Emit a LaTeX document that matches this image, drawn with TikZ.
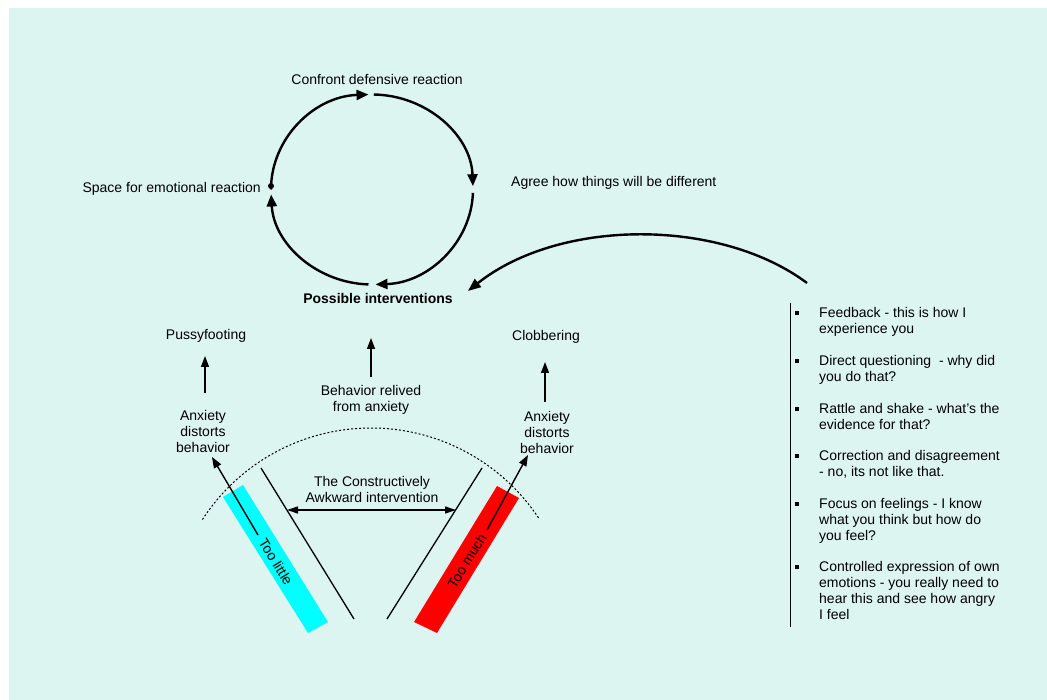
\documentclass[tikz,border=0pt]{standalone}
\usepackage{fontspec}
\setmainfont{Liberation Sans}
\usetikzlibrary{arrows.meta}
\definecolor{bgmint}{RGB}{221,245,241}
\definecolor{barcyan}{RGB}{0,255,255}
\definecolor{barred}{RGB}{255,0,0}
\begin{document}
\begin{tikzpicture}[x=1pt,y=-1pt,
  lbl/.style={font=\fontsize{14}{16}\selectfont, inner sep=0pt, align=center},
  cyc/.style={line width=2.4pt, -{Triangle[length=12pt,width=10pt]}},
  upar/.style={line width=1.4pt, -{Triangle[length=11pt,width=8pt]}},
  thin/.style={line width=1.3pt},
  bullet/.style={fill=black, minimum size=4.5pt, inner sep=0pt},
  item/.style={lbl, align=left, anchor=north west}
]
\useasboundingbox (0,0) rectangle (1047,700);
\fill[bgmint] (9,8) rectangle (1047,700);

% ---- cycle of interventions ----
\node[lbl] (confront) at (377,80) {Confront defensive reaction};
\node[lbl, anchor=west] (agree) at (511,183) {Agree how things will be different};
\node[lbl, anchor=east] (space) at (261,189) {Space for emotional reaction};
\node[lbl, font=\fontsize{14}{16}\selectfont\bfseries] (possible) at (378,298) {Possible interventions};

\coordinate (cc) at (372,189.5);
\draw[cyc] (cc) ++(180:101 and 95) arc[start angle=180, end angle=268, x radius=101, y radius=95];
\draw[cyc] (cc) ++(271:101 and 95) arc[start angle=271, end angle=358, x radius=101, y radius=95];
\draw[cyc] (cc) ++(2:101 and 95) arc[start angle=2, end angle=88, x radius=101, y radius=95];
\draw[cyc] (cc) ++(92:101 and 95) arc[start angle=92, end angle=177, x radius=101, y radius=95];
\fill (271,186) circle[radius=3];

% ---- list of techniques ----
\coordinate (listtop) at (790,303);
\coordinate (listbot) at (790,627);
\draw[line width=1pt] (listtop) -- (listbot);
\coordinate (curvestart) at (807,283);
\coordinate (curveend) at ([shift={(15,-7)}]possible.east);
\draw[line width=2.4pt, -{Triangle[length=13pt,width=10pt]}]
  (curvestart) .. controls (720,218) and (560,218) .. (curveend);

\foreach \y/\txt [count=\i] in {
  307/{Feedback - this is how I\\experience you},
  355/{Direct questioning\ \ - why did\\you do that?},
  403/{Rattle and shake - what’s the\\evidence for that?},
  450/{Correction and disagreement\\- no, its not like that.},
  498/{Focus on feelings - I know\\what you think but how do\\you feel?},
  561/{Controlled expression of own\\emotions - you really need to\\hear this and see how angry\\I feel}} {
  \node[bullet] (b\i) at (797,\y+6) {};
  \node[item] (t\i) at (819,\y) {\txt};
}

% ---- three outcomes ----
\node[lbl] (pussy) at (206,336) {Pussyfooting};
\node[lbl] (anxl) at (203,431) {Anxiety\\distorts\\behavior};
\draw[upar] (205,393) -- (205,356);

\node[lbl] (clob) at (546,337) {Clobbering};
\node[lbl] (anxr) at (547,432) {Anxiety\\distorts\\behavior};
\draw[upar] (545,402) -- (545,362);

\node[lbl] (relived) at (371,400) {Behavior relived\\from anxiety};
\draw[upar] (371,377) -- (371,338);

% ---- the range of intervention ----
\draw[line width=1pt, dash pattern=on 2pt off 2pt] (371,629) ++(213:201) arc[start angle=213, end angle=327, radius=201];

\fill[barcyan] (223,497) -- (243,485) -- (328,622) -- (308,633) -- cycle;
\fill[barred] (497,486) -- (519,498) -- (437,633) -- (414,622) -- cycle;

\coordinate (ltop) at (261,468);
\coordinate (lbot) at (354,619);
\coordinate (rtop) at (482,468);
\coordinate (rbot) at (387,619);
\draw[thin] (ltop) -- (lbot);
\draw[thin] (rtop) -- (rbot);

\draw[upar] (258,535) -- (212,457);
\draw[upar] (487,530) -- (528,455);

\node[lbl] (cai) at (372,489) {The Constructively\\Awkward intervention};
\draw[thin, {Triangle[length=11pt,width=7pt]}-{Triangle[length=11pt,width=7pt]}] (287,510) -- (456,510);

\node[lbl, rotate=-58.2] (little) at (276,562) {Too little};
\node[lbl, rotate=58.6] (much) at (467,561) {Too much};
\end{tikzpicture}
\end{document}
